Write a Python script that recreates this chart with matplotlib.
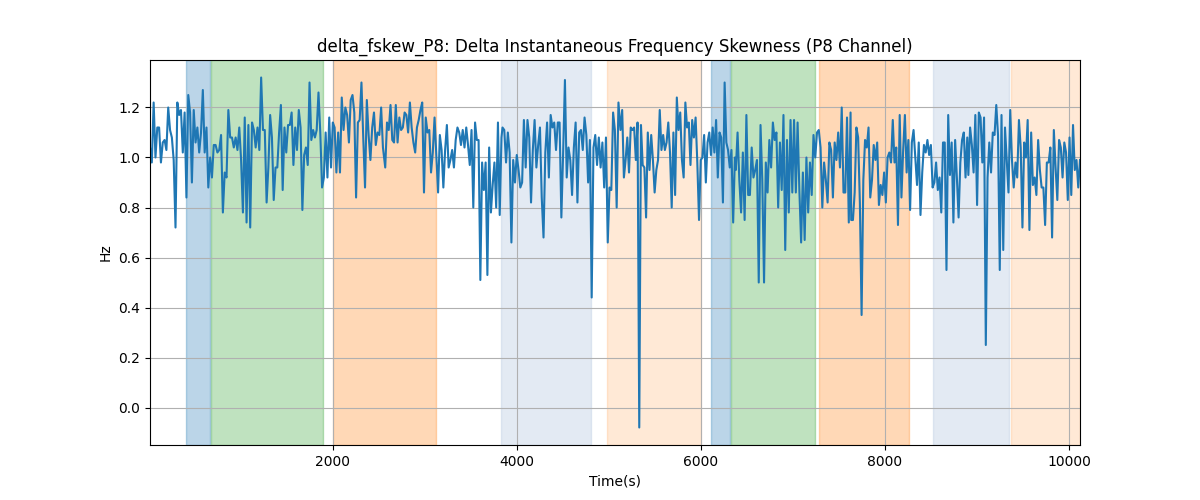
import matplotlib
matplotlib.use("Agg")
import matplotlib.pyplot as plt
import numpy as np

# Time bounds (s) of each read-off segment of the series
segment_bounds = [(15, 1282), (1301, 2546), (2571, 3834), (3845, 5105),
                  (5127, 6370), (6380, 7627), (7634, 8895), (8907, 10120)]

seg1 = [1.04, 0.98, 1.22, 1.00, 1.12, 1.12, 0.98, 1.06, 1.07, 1.03, 1.20, 1.11, 1.08, 0.99, 0.72,
        1.22, 1.17, 1.19, 1.02, 1.18, 0.84, 1.25, 1.18, 0.90, 1.19, 1.06, 1.12, 1.02, 1.10, 1.27,
        1.02, 1.12, 0.88, 1.00, 0.92, 1.05, 1.05, 1.02, 1.03, 1.09, 0.78, 0.94, 0.92, 1.19, 1.08,
        1.08, 1.04, 1.08, 1.03, 1.12, 0.99, 0.78, 1.16, 0.74, 1.13, 0.72, 1.14, 1.11, 1.04, 1.12,
        1.03, 1.32, 1.11, 1.11, 0.82]
seg2 = [0.96, 1.17, 1.08, 0.83, 0.96, 0.96, 1.10, 1.21, 0.87, 1.12, 1.02, 1.13, 1.13, 1.18, 0.97,
        1.12, 1.03, 1.19, 1.12, 0.79, 1.01, 1.04, 0.97, 1.30, 1.07, 1.11, 1.08, 1.11, 1.26, 1.10,
        0.88, 0.92, 1.10, 0.92, 1.16, 0.96, 1.14, 1.12, 0.94, 1.10, 0.94, 1.24, 1.11, 1.20, 1.17,
        1.06, 1.23, 1.25, 1.18, 0.84, 1.14, 1.15, 1.30, 1.08, 0.88, 1.23, 1.09, 0.99, 1.12, 1.18,
        1.05, 1.10, 1.09, 1.20, 1.04]
seg3 = [0.96, 1.14, 1.11, 1.21, 1.07, 1.06, 1.21, 1.06, 1.16, 1.11, 1.12, 1.18, 1.17, 1.10, 1.22,
        1.12, 1.06, 1.02, 1.12, 1.15, 1.19, 1.22, 0.86, 1.16, 1.10, 1.11, 0.94, 1.02, 1.16, 1.01,
        0.86, 1.09, 1.03, 0.88, 1.03, 1.13, 0.96, 0.99, 1.03, 0.96, 1.07, 1.12, 1.10, 1.05, 1.11,
        1.04, 1.12, 1.05, 0.97, 1.11, 0.80, 1.14, 1.07, 1.07, 0.51, 0.98, 0.87, 0.98, 0.53, 1.04,
        0.78, 0.89, 0.98, 0.80, 1.14, 0.77, 1.08]
seg4 = [1.12, 1.11, 0.98, 1.10, 1.02, 0.66, 0.99, 0.90, 1.01, 0.95, 0.88, 0.90, 1.15, 0.96, 1.15,
        1.08, 0.82, 1.03, 1.15, 0.96, 1.05, 1.12, 0.84, 0.68, 1.02, 1.14, 0.92, 1.17, 1.12, 1.14,
        1.03, 1.14, 1.14, 0.76, 1.02, 1.31, 0.92, 1.04, 0.99, 0.85, 1.04, 1.14, 0.82, 1.10, 1.11,
        1.03, 1.16, 1.09, 0.90, 1.07, 0.44, 1.04, 1.09, 0.97, 1.08, 0.96, 1.06, 0.88, 1.08, 0.66,
        0.88, 0.87, 1.18, 1.11, 0.80, 1.22]
seg5 = [1.11, 1.19, 0.92, 0.99, 1.08, 0.94, 1.12, 1.11, 1.12, 0.99, 1.14, -0.08, 1.13, 0.97, 0.96,
        0.76, 1.10, 0.95, 1.09, 0.99, 0.86, 0.95, 0.99, 1.19, 1.03, 1.09, 1.03, 1.06, 1.14, 1.02,
        0.80, 1.10, 0.85, 1.24, 1.11, 1.18, 0.99, 0.92, 1.22, 1.12, 1.14, 0.97, 1.15, 1.08, 1.16,
        0.98, 0.75, 0.99, 1.00, 1.09, 0.90, 1.06, 1.10, 1.01, 1.12, 1.02, 1.15, 0.92, 1.10, 1.08,
        0.82, 1.30, 1.06, 1.03, 0.96, 1.03, 0.74, 1.00]
seg6 = [0.95, 1.10, 0.91, 0.78, 1.02, 0.75, 1.17, 0.85, 0.85, 1.04, 0.92, 0.95, 0.99, 0.50, 1.13,
        0.91, 0.50, 0.98, 0.86, 1.07, 0.96, 1.14, 1.07, 1.10, 0.80, 1.06, 0.87, 1.17, 0.63, 1.07,
        0.78, 1.15, 0.86, 1.15, 0.86, 1.14, 0.87, 0.66, 0.94, 0.67, 1.00, 0.78, 0.98, 0.85, 1.09,
        1.00, 1.10, 1.11, 1.04, 0.80, 0.98, 0.91, 0.82, 1.06, 1.03, 0.84, 1.06, 0.99, 1.10, 0.96,
        1.20, 0.86, 0.86, 1.16, 0.74, 1.18]
seg7 = [0.75, 0.75, 0.86, 1.12, 1.08, 0.82, 0.37, 0.91, 1.07, 1.04, 1.12, 0.84, 0.91, 1.05, 0.99,
        1.06, 0.81, 0.89, 0.85, 0.94, 0.82, 1.00, 1.02, 0.98, 1.15, 0.98, 1.04, 0.73, 1.17, 0.84,
        1.03, 1.17, 0.94, 1.07, 0.79, 1.06, 1.11, 1.00, 0.89, 1.06, 0.77, 0.94, 1.05, 1.02, 1.07,
        1.01, 1.05, 0.88, 0.90, 0.98, 0.87, 0.92, 0.78, 1.06, 1.06, 0.55, 1.17, 0.93, 1.06, 0.74,
        1.07, 0.92, 0.76, 0.98, 1.07, 1.10, 0.92, 1.08]
seg8 = [0.93, 1.12, 1.05, 0.94, 1.17, 0.81, 1.18, 1.16, 0.98, 1.16, 0.25, 0.92, 1.06, 0.94, 1.10,
        1.09, 1.21, 1.09, 0.55, 1.17, 0.63, 1.12, 0.99, 0.86, 1.19, 0.99, 0.88, 0.98, 0.92, 1.15,
        1.04, 0.72, 1.06, 1.00, 1.15, 0.71, 1.10, 0.89, 0.92, 0.85, 1.07, 0.95, 0.88, 0.88, 0.73,
        0.98, 0.98, 1.04, 0.68, 1.11, 0.96, 0.83, 1.07, 1.04, 0.92, 1.06, 1.02, 0.83, 1.08, 0.85,
        1.13, 0.95, 0.99, 0.88, 0.99]
segments = [seg1, seg2, seg3, seg4, seg5, seg6, seg7, seg8]

# Shaded intervals (start, end, colour, alpha)
span_starts = [410, 681, 2004, 3834, 4986, 6109, 6326, 7279, 8518, 9366]
span_ends = [671, 1899, 3124, 4808, 6000, 6312, 7236, 8257, 9348, 10120]
span_colors = ["tab:blue", "tab:green", "tab:orange", "lightsteelblue", "tab:orange",
               "tab:blue", "tab:green", "tab:orange", "lightsteelblue", "tab:orange"]
span_alphas = [0.3, 0.3, 0.3, 0.35, 0.17, 0.3, 0.3, 0.3, 0.35, 0.17]

times = np.concatenate([np.linspace(a, b, len(s)) for (a, b), s in zip(segment_bounds, segments)])
values = np.concatenate([np.array(s) for s in segments])

fig, ax = plt.subplots(figsize=(12, 5), dpi=100)
for s, e, c, a in zip(span_starts, span_ends, span_colors, span_alphas):
    ax.axvspan(s, e, color=c, alpha=a)
ax.plot(times, values, color="tab:blue", linewidth=1.5)
ax.set_xlim(times[0], times[-1])
ax.grid(True)
ax.set_title("delta_fskew_P8: Delta Instantaneous Frequency Skewness (P8 Channel)")
ax.set_xlabel("Time(s)")
ax.set_ylabel("Hz")
fig.savefig("out.png", dpi=100)
